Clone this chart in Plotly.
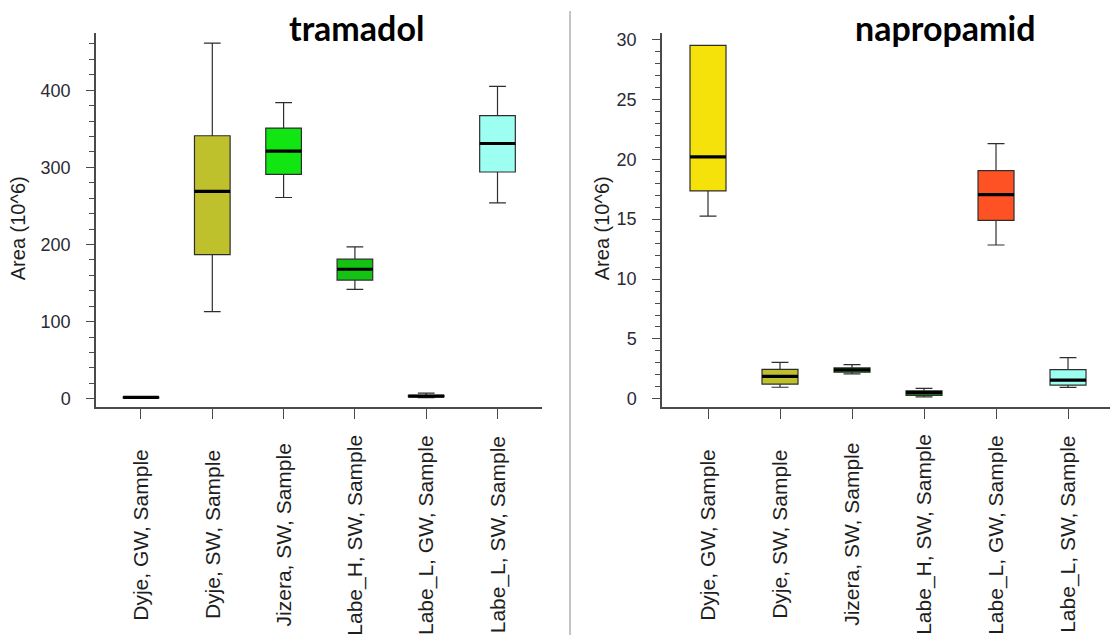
import plotly.graph_objects as go

# Sample groups shown on both panels
categories = [
    "Dyje, GW, Sample",
    "Dyje, SW, Sample",
    "Jizera, SW, Sample",
    "Labe_H, SW, Sample",
    "Labe_L, GW, Sample",
    "Labe_L, SW, Sample",
]
box_colors = ["#F6E20B", "#BEC12B", "#12E612", "#12C312", "#FF5224", "#9DFFF1"]

# tramadol, Area (10^6)
tram_low = [0.8, 113, 261, 142, 1.5, 254]
tram_q1 = [1.2, 187, 291, 154, 2.5, 294]
tram_med = [1.8, 269, 321, 168, 3.5, 331]
tram_q3 = [2.4, 341, 351, 181, 4.5, 367]
tram_high = [3.0, 461, 384, 197, 7.5, 405]

# napropamid, Area (10^6)
napr_low = [15.25, 0.97, 2.09, 0.16, 12.84, 0.96]
napr_q1 = [17.35, 1.24, 2.23, 0.30, 14.9, 1.15]
napr_med = [20.2, 1.88, 2.42, 0.52, 17.05, 1.57]
napr_q3 = [29.5, 2.46, 2.58, 0.68, 19.05, 2.45]
napr_high = [29.5, 3.04, 2.86, 0.88, 21.3, 3.44]

panels = [
    ("tramadol", "x", "y", tram_low, tram_q1, tram_med, tram_q3, tram_high),
    ("napropamid", "x2", "y2", napr_low, napr_q1, napr_med, napr_q3, napr_high),
]

BOX_W = 0.5
W, H = 1110, 637

fig = go.Figure()
for name, xa, ya, lo, q1, med, q3, hi in panels:
    for i, cat in enumerate(categories):
        fig.add_trace(go.Box(
            x=[i], q1=[q1[i]], median=[med[i]], q3=[q3[i]],
            lowerfence=[lo[i]], upperfence=[hi[i]],
            width=BOX_W, whiskerwidth=0.47, boxpoints=False,
            fillcolor=box_colors[i],
            line=dict(color="#2e2e2e", width=1.2),
            xaxis=xa, yaxis=ya, name=cat, showlegend=False,
        ))
    # thick black median bars
    for i in range(len(categories)):
        fig.add_trace(go.Scatter(
            x=[i - BOX_W / 2, i + BOX_W / 2], y=[med[i], med[i]],
            mode="lines", line=dict(color="black", width=3.2),
            xaxis=xa, yaxis=ya, showlegend=False, hoverinfo="skip",
        ))


def px_x(p):
    return p / W


def px_y(p):
    return (H - p) / H


axis_common = dict(
    showline=True, linecolor="#4a4a4a", linewidth=1.5,
    ticks="outside", tickcolor="#4a4a4a", tickwidth=1.2,
    showgrid=False, zeroline=False,
)
tick_font = dict(family="Liberation Sans, Arial, sans-serif", size=18, color="#2a2a36")

ydom = [px_y(407), px_y(30)]

fig.update_layout(
    width=W, height=H,
    margin=dict(l=0, r=0, t=0, b=0),
    paper_bgcolor="white", plot_bgcolor="white",
    boxmode="overlay",
    xaxis=dict(domain=[px_x(96), px_x(542)], range=[-0.631, 5.624],
               tickvals=list(range(len(categories))), showticklabels=False,
               ticklen=10, anchor="y", **axis_common),
    yaxis=dict(domain=ydom, range=[-10.3, 474.5], tickvals=[0, 100, 200, 300, 400],
               ticklen=8, tickfont=tick_font, ticklabelstandoff=12,
               minor=dict(dtick=20, ticks="outside", ticklen=5, tickcolor="#4a4a4a"),
               anchor="x", **axis_common),
    xaxis2=dict(domain=[px_x(662), 1.0], range=[-0.639, 5.583],
                tickvals=list(range(len(categories))), showticklabels=False,
                ticklen=10, anchor="y2", **axis_common),
    yaxis2=dict(domain=ydom, range=[-0.66, 30.55], tickvals=[0, 5, 10, 15, 20, 25, 30],
                ticklen=8, tickfont=tick_font, ticklabelstandoff=12,
                minor=dict(dtick=1, ticks="outside", ticklen=5, tickcolor="#4a4a4a"),
                anchor="x2", **axis_common),
)

annotations = []
label_font = dict(family="Liberation Sans, Arial, sans-serif", size=21, color="#1e1e1e")
for (name, xa, ya, *_), title_x, ytitle_x in zip(panels, [356, 945], [18, 602]):
    annotations.append(dict(
        text=f"<b>{name}</b>", x=px_x(title_x), y=px_y(25), xref="paper", yref="paper",
        xanchor="center", yanchor="middle", showarrow=False,
        font=dict(family="Lato, sans-serif", size=34, color="black"),
    ))
    annotations.append(dict(
        text="Area (10^6)", x=px_x(ytitle_x), y=px_y(227), xref="paper", yref="paper",
        xanchor="center", yanchor="middle", textangle=-90, showarrow=False,
        font=dict(family="Liberation Sans, Arial, sans-serif", size=20, color="#1e1e1e"),
    ))
    for i, cat in enumerate(categories):
        annotations.append(dict(
            text=cat, x=i, y=px_y(536), xref=xa, yref="paper",
            xanchor="center", yanchor="middle", textangle=-90, showarrow=False,
            font=label_font,
        ))
fig.update_layout(annotations=annotations)

# panel separator
fig.add_shape(type="line", xref="paper", yref="paper",
              x0=px_x(570), x1=px_x(570), y0=0, y1=px_y(8),
              line=dict(color="#c4c4c4", width=2))

fig.write_html("out.html")
